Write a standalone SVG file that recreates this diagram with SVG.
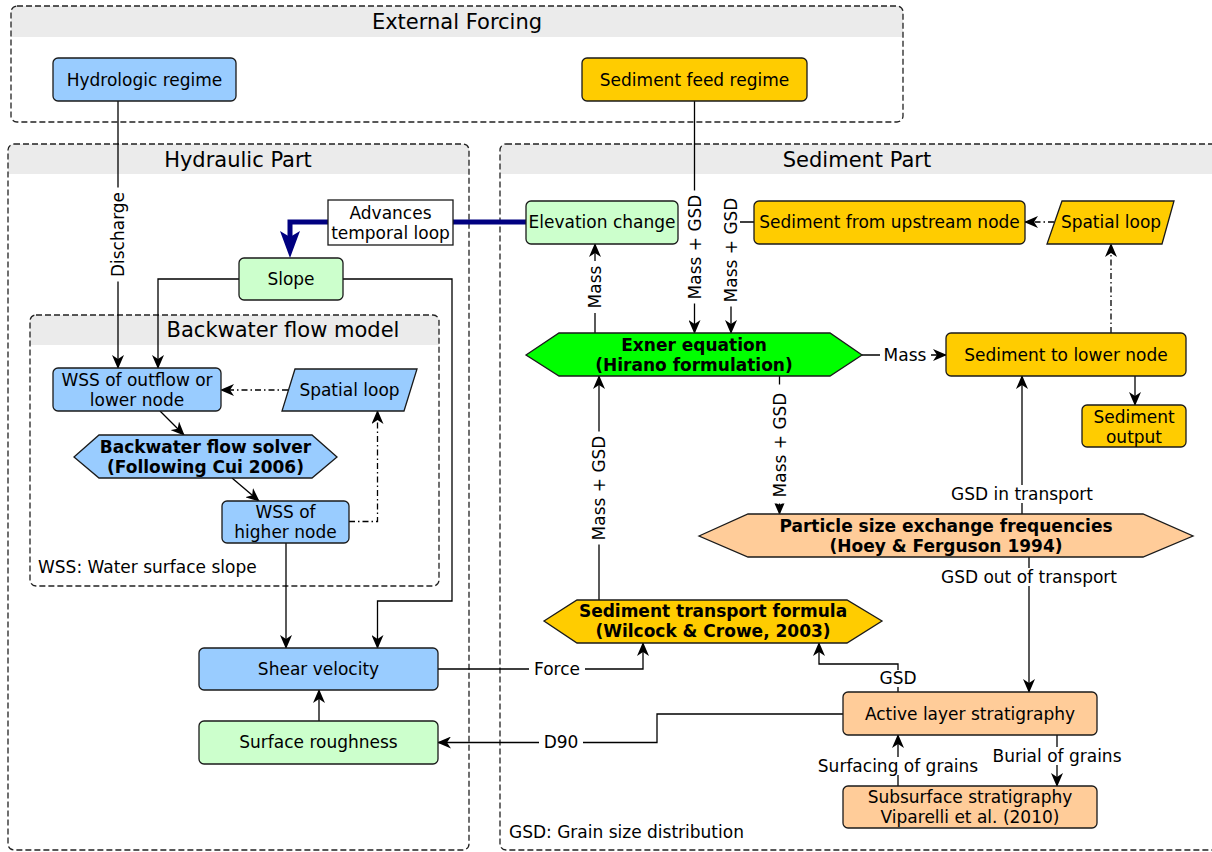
<svg xmlns="http://www.w3.org/2000/svg" width="1212" height="852" viewBox="0 0 1212 852">
<style>
text{font-family:"DejaVu Sans","Liberation Sans",sans-serif;font-size:17px;fill:#000;text-anchor:middle}
.title{font-size:21px}
.bold{font-weight:bold}
.left{text-anchor:start}
.cont{fill:none;stroke:#222;stroke-width:1.3;stroke-dasharray:6,3}
.hdr{fill:#ebebeb;stroke:none}
.nd{stroke:#1a1a1a;stroke-width:1.3}
.blue{fill:#99ccff}
.lgreen{fill:#ccffcc}
.yellow{fill:#ffcc00}
.peach{fill:#ffcc99}
.green{fill:#00ff00}
.white{fill:#fff}
.ln{fill:none;stroke:#000;stroke-width:1.3}
.arr{marker-end:url(#ah)}
.dd{stroke-dasharray:6,3,1.5,3}
.bg{fill:#fff;stroke:none}
</style>
<defs>
<marker id="ah" viewBox="0 0 14 12" refX="13" refY="6" markerWidth="14" markerHeight="12" orient="auto" markerUnits="userSpaceOnUse">
<path d="M0,0 L14,6 L0,12 L4,6 z" fill="#000"/>
</marker>
</defs>

<g id="containers">
<g id="external-forcing">
<path class="hdr" d="M11,37 V12 Q11,6 17,6 H897 Q903,6 903,12 V37 Z"/>
<rect class="cont" x="11" y="6" width="892" height="116" rx="6"/>
<text class="title" x="457" y="29">External Forcing</text>
</g>
<g id="hydraulic-part">
<path class="hdr" d="M8,174 V150 Q8,144 14,144 H463 Q469,144 469,150 V174 Z"/>
<rect class="cont" x="8" y="144" width="461" height="706" rx="6"/>
<text class="title" x="238" y="167">Hydraulic Part</text>
</g>
<g id="backwater-model">
<path class="hdr" d="M30,345 V321 Q30,315 36,315 H433 Q439,315 439,321 V345 Z"/>
<rect class="cont" x="30" y="315" width="409" height="271" rx="6"/>
<text class="title" x="283" y="337">Backwater flow model</text>
<text class="left" x="38" y="573">WSS: Water surface slope</text>
</g>
<g id="sediment-part">
<path class="hdr" d="M500,174 V150 Q500,144 506,144 H1216 V174 Z"/>
<rect class="cont" x="500" y="144" width="718" height="706" rx="6"/>
<text class="title" x="857" y="167">Sediment Part</text>
<text class="left" x="509" y="838">GSD: Grain size distribution</text>
</g>
</g>

<g id="connectors">
<!-- temporal loop (navy) -->
<polyline points="526,222 290,222 290,238" fill="none" stroke="#000080" stroke-width="5"/>
<path d="M280,231 L290,237 L300,231 L290,258 Z" fill="#000080"/>
<!-- discharge -->
<line class="ln arr" x1="118" y1="101" x2="118" y2="368"/>
<!-- slope connections -->
<polyline class="ln arr" points="239,279 158,279 158,368"/>
<polyline class="ln arr" points="343,279 452,279 452,601 377.5,601 377.5,648"/>
<!-- backwater internal -->
<line class="ln dd arr" x1="288" y1="390" x2="221" y2="390"/>
<line class="ln arr" x1="160" y1="411" x2="184" y2="435"/>
<line class="ln arr" x1="232" y1="478" x2="259" y2="501"/>
<polyline class="ln dd arr" points="349,521.5 377.5,521.5 377.5,411"/>
<line class="ln arr" x1="286" y1="543" x2="286" y2="648"/>
<!-- roughness to shear -->
<line class="ln arr" x1="319" y1="721" x2="319" y2="690"/>
<!-- force -->
<polyline class="ln arr" points="438,669 643,669 643,643"/>
<!-- D90 -->
<polyline class="ln arr" points="843,714 657,714 657,742.5 438,742.5"/>
<!-- sediment part -->
<line class="ln arr" x1="595" y1="333" x2="595" y2="244"/>
<line class="ln arr" x1="694.5" y1="101" x2="694.5" y2="333"/>
<polyline class="ln arr" points="754,222 731,222 731,333"/>
<line class="ln dd arr" x1="1054" y1="222" x2="1025" y2="222"/>
<line class="ln arr" x1="862" y1="355" x2="946" y2="355"/>
<line class="ln dd arr" x1="1111" y1="333" x2="1111" y2="244"/>
<line class="ln arr" x1="1135" y1="376" x2="1135" y2="405"/>
<line class="ln arr" x1="1022" y1="514" x2="1022" y2="376"/>
<line class="ln arr" x1="779.5" y1="376" x2="779.5" y2="514"/>
<line class="ln arr" x1="599" y1="600" x2="599" y2="376"/>
<line class="ln arr" x1="1029" y1="557" x2="1029" y2="692"/>
<polyline class="ln arr" points="898,692 898,664 819,664 819,643"/>
<line class="ln arr" x1="898" y1="786" x2="898" y2="735"/>
<line class="ln arr" x1="1057" y1="735" x2="1057" y2="786"/>

<!-- labels -->
<g transform="rotate(-90 118 234.5)"><rect class="bg" x="71" y="225.5" width="94" height="18"/><text x="118" y="240.5">Discharge</text></g>
<g transform="rotate(-90 595 287)"><rect class="bg" x="569" y="278" width="52" height="18"/><text x="595" y="293">Mass</text></g>
<g transform="rotate(-90 694.5 247)"><rect class="bg" x="638" y="238" width="113" height="18"/><text x="694.5" y="253">Mass + GSD</text></g>
<g transform="rotate(-90 731 250)"><rect class="bg" x="674.5" y="241" width="113" height="18"/><text x="731" y="256">Mass + GSD</text></g>
<g transform="rotate(-90 779.5 445)"><rect class="bg" x="721" y="436" width="119" height="18"/><text x="779.5" y="451">Mass + GSD</text></g>
<g transform="rotate(-90 599 488)"><rect class="bg" x="542.5" y="479" width="113" height="18"/><text x="599" y="494">Mass + GSD</text></g>
<rect class="bg" x="880" y="346" width="51" height="18"/><text x="905" y="361">Mass</text>
<rect class="bg" x="529" y="660" width="56" height="18"/><text x="557" y="675">Force</text>
<rect class="bg" x="539" y="733" width="44" height="18"/><text x="561" y="748">D90</text>
<rect class="bg" x="947" y="485" width="150" height="18"/><text x="1022" y="500">GSD in transport</text>
<rect class="bg" x="939" y="568" width="180" height="18"/><text x="1029" y="583">GSD out of transport</text>
<rect class="bg" x="876" y="670" width="44" height="17"/><text x="898" y="684">GSD</text>
<rect class="bg" x="815" y="757" width="166" height="18"/><text x="898" y="772">Surfacing of grains</text>
<rect class="bg" x="989" y="747" width="136" height="18"/><text x="1057" y="762">Burial of grains</text>
</g>

<g id="hydrologic-regime"><rect class="nd blue" x="53" y="58" width="183" height="43" rx="5"/><text x="144.5" y="86">Hydrologic regime</text></g>
<g id="sediment-feed-regime"><rect class="nd yellow" x="582" y="58" width="225" height="43" rx="5"/><text x="694.5" y="86">Sediment feed regime</text></g>
<g id="advances-temporal-loop"><rect class="nd white" x="328" y="200" width="125" height="45"/><text x="390.5" y="219">Advances</text><text x="390.5" y="239">temporal loop</text></g>
<g id="slope"><rect class="nd lgreen" x="239" y="258" width="104" height="42" rx="5"/><text x="291" y="285">Slope</text></g>
<g id="wss-outflow"><rect class="nd blue" x="53" y="368" width="168" height="43" rx="5"/><text x="137" y="386">WSS of outflow or</text><text x="137" y="406">lower node</text></g>
<g id="spatial-loop-hydraulic"><polygon class="nd blue" points="295,369 417,369 404,411 282,411"/><text x="349.5" y="396">Spatial loop</text></g>
<g id="backwater-solver"><polygon class="nd blue" points="74,457 99,435 312,435 337,457 312,478 99,478"/><text class="bold" x="205.5" y="453">Backwater flow solver</text><text class="bold" x="205.5" y="473">(Following Cui 2006)</text></g>
<g id="wss-higher"><rect class="nd blue" x="222" y="501" width="127" height="42" rx="5"/><text x="285.5" y="518">WSS of</text><text x="285.5" y="538">higher node</text></g>
<g id="shear-velocity"><rect class="nd blue" x="199" y="648" width="239" height="42" rx="5"/><text x="318.5" y="675">Shear velocity</text></g>
<g id="surface-roughness"><rect class="nd lgreen" x="199" y="721" width="239" height="43" rx="5"/><text x="318.5" y="748">Surface roughness</text></g>

<g id="elevation-change"><rect class="nd lgreen" x="526" y="201" width="152" height="43" rx="5"/><text x="602" y="228">Elevation change</text></g>
<g id="sediment-upstream"><rect class="nd yellow" x="754" y="201" width="271" height="43" rx="5"/><text x="889.5" y="228">Sediment from upstream node</text></g>
<g id="spatial-loop-sediment"><polygon class="nd yellow" points="1062,201 1174,201 1162,244 1047,244"/><text x="1111" y="228">Spatial loop</text></g>
<g id="exner"><polygon class="nd green" points="526,355 559,333 830,333 862,355 830,376 559,376"/><text class="bold" x="694" y="351">Exner equation</text><text class="bold" x="694" y="371">(Hirano formulation)</text></g>
<g id="sediment-lower"><rect class="nd yellow" x="946" y="333" width="240" height="43" rx="5"/><text x="1066" y="361">Sediment to lower node</text></g>
<g id="sediment-output"><rect class="nd yellow" x="1082" y="405" width="104" height="42" rx="5"/><text x="1134" y="423">Sediment</text><text x="1134" y="443">output</text></g>
<g id="particle-size"><polygon class="nd peach" points="699,536 748,514 1143,514 1193,536 1143,557 748,557"/><text class="bold" x="946" y="532">Particle size exchange frequencies</text><text class="bold" x="946" y="552">(Hoey &amp; Ferguson 1994)</text></g>
<g id="transport-formula"><polygon class="nd yellow" points="544,621 577,600 847,600 882,621 847,643 577,643"/><text class="bold" x="713" y="617">Sediment transport formula</text><text class="bold" x="713" y="637">(Wilcock &amp; Crowe, 2003)</text></g>
<g id="active-layer"><rect class="nd peach" x="843" y="692" width="254" height="43" rx="5"/><text x="970" y="720">Active layer stratigraphy</text></g>
<g id="subsurface"><rect class="nd peach" x="843" y="786" width="254" height="42" rx="5"/><text x="970" y="803">Subsurface stratigraphy</text><text x="970" y="823">Viparelli et al. (2010)</text></g>
</svg>
